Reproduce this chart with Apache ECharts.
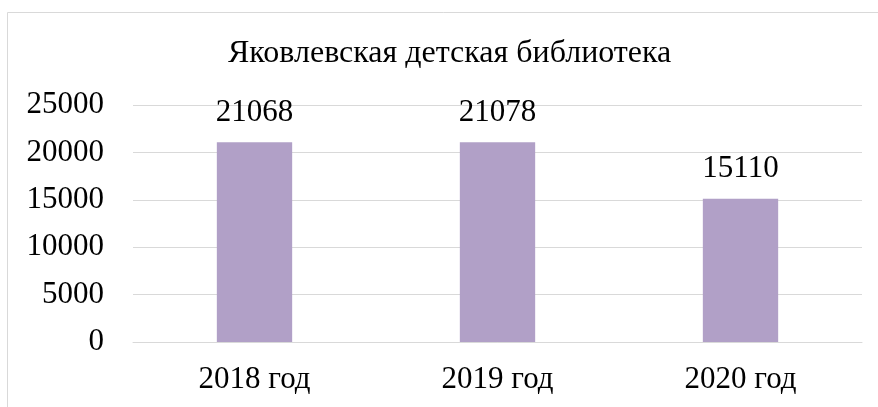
<!DOCTYPE html>
<html>
<head>
<meta charset="utf-8">
<script src="https://cdn.jsdelivr.net/npm/echarts@6/dist/echarts.min.js"></script>
<style>
  html, body { margin: 0; padding: 0; background: #fff; }
  #main { width: 878px; height: 407px; }
</style>
</head>
<body>
<div id="main"></div>
<script>
// данные диаграммы
var years = ['2018 год', '2019 год', '2020 год'];
var visits = [21068, 21078, 15110];
var yTicks = [0, 5000, 10000, 15000, 20000, 25000];

var fontFam = '"Liberation Serif", "Times New Roman", serif';
var chart = echarts.init(document.getElementById('main'));

var option = {
  backgroundColor: '#fff',
  animation: false,
  title: {
    text: 'Яковлевская детская библиотека',
    left: 223,
    top: 33,
    textStyle: { fontFamily: fontFam, fontSize: 32, fontWeight: 'normal', color: '#000' }
  },
  // рамка области диаграммы (обрезана справа и снизу)
  graphic: [{
    type: 'rect',
    shape: { x: 7.5, y: 12.5, width: 1000, height: 500 },
    style: { fill: 'none', stroke: '#d9d9d9', lineWidth: 1 },
    silent: true
  }],
  grid: { left: 133, right: 16, top: 105, bottom: 65 },
  xAxis: {
    type: 'category',
    data: years,
    axisLine: { show: true, lineStyle: { color: '#d9d9d9', width: 1 } },
    axisTick: { show: false },
    axisLabel: { fontFamily: fontFam, fontSize: 31, color: '#000', margin: 22 }
  },
  yAxis: {
    type: 'value',
    min: yTicks[0],
    max: yTicks[yTicks.length - 1],
    interval: 5000,
    axisLine: { show: false },
    axisTick: { show: false },
    splitLine: { lineStyle: { color: '#d9d9d9', width: 1 } },
    axisLabel: {
      fontFamily: fontFam, fontSize: 31, color: '#000', margin: 29,
      formatter: function (v) { return String(v); }
    }
  },
  series: [{
    type: 'bar',
    data: visits,
    barWidth: '31%',
    itemStyle: { color: '#b1a0c7' },
    label: {
      show: true,
      position: 'top',
      distance: 14,
      fontFamily: fontFam,
      fontSize: 31,
      color: '#000'
    }
  }]
};

chart.setOption(option);
</script>
</body>
</html>
